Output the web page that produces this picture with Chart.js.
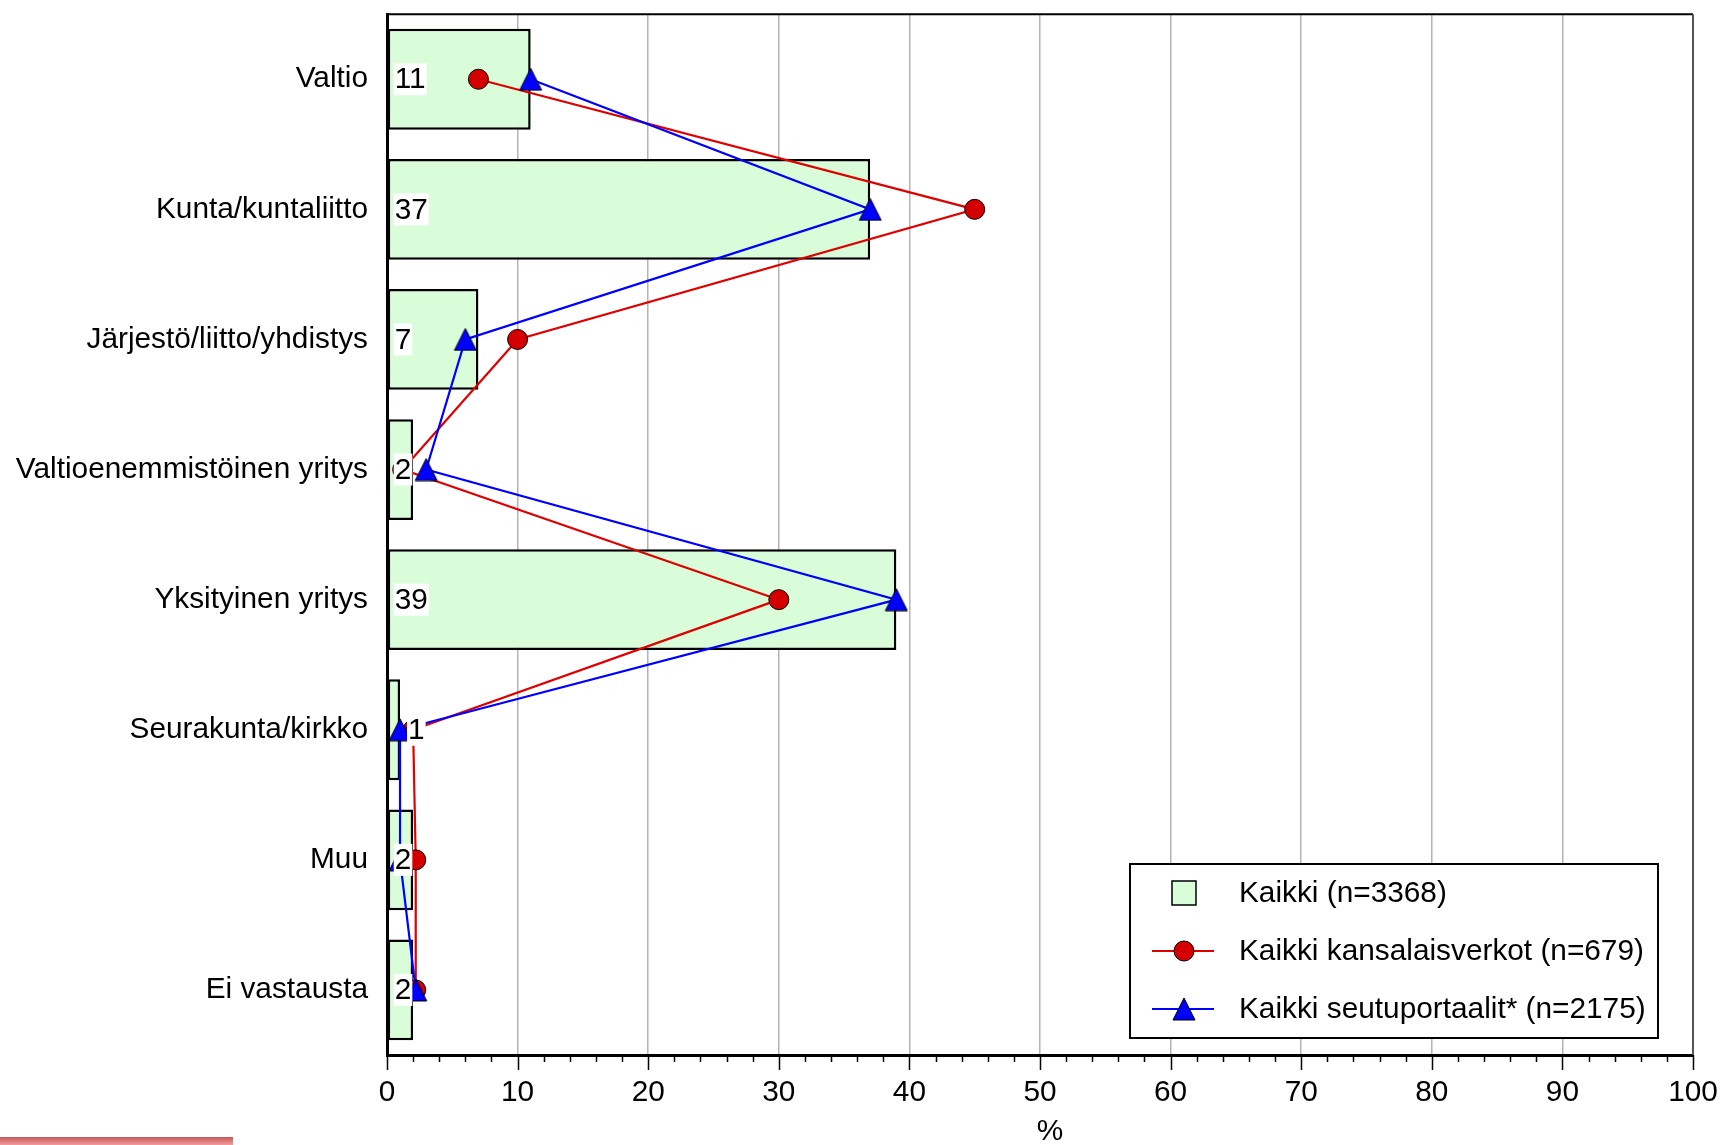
<!DOCTYPE html>
<html lang="fi">
<head>
<meta charset="utf-8">
<title>Organisaatiotyyppi</title>
<script src="https://cdn.jsdelivr.net/npm/chart.js@4.4.1/dist/chart.umd.min.js"></script>
<style>
  html, body { margin: 0; padding: 0; background: #fff; overflow: hidden; }
  #wrap { position: relative; width: 1724px; height: 1145px; }
  #stripe { position: absolute; left: 0; top: 1137px; width: 233px; height: 8px;
            background: linear-gradient(#c45858, #f29c9c); }
</style>
</head>
<body>
<div id="wrap">
  <canvas id="chart"></canvas>
  <div id="stripe"></div>
</div>
<script>
'use strict';

// ── Data ─────────────────────────────────────────────────────
const categories = [
  'Valtio',
  'Kunta/kuntaliitto',
  'Järjestö/liitto/yhdistys',
  'Valtioenemmistöinen yritys',
  'Yksityinen yritys',
  'Seurakunta/kirkko',
  'Muu',
  'Ei vastausta',
];
const kaikki          = [11, 37, 7, 2, 39, 1, 2, 2];
const kansalaisverkot = [7, 45, 10, 1.2, 30, 2, 2.2, 2.2];
const seutuportaalit  = [11, 37, 6, 3, 39, 1, 1, 2.2];
const seriesNames = [
  'Kaikki (n=3368)',
  'Kaikki kansalaisverkot (n=679)',
  'Kaikki seutuportaalit* (n=2175)',
];
const xMin = 0, xMax = 100, xMajorStep = 10, xMinorStep = 2;
const xTitle = '%';

// ── Style ────────────────────────────────────────────────────
const FONT   = "'Liberation Sans', Arial, sans-serif";
const FSIZE  = 29.8;
const GREEN  = '#d9fdd9';
const RED    = '#e00000';
const RED_PT = '#d40000';
const BLUE   = '#0000ff';

function makeTriangle(size, fill) {
  const c = document.createElement('canvas');
  c.width = size; c.height = size;
  const g = c.getContext('2d');
  g.beginPath();
  g.moveTo(size / 2, 1);
  g.lineTo(size - 1, size - 1);
  g.lineTo(1, size - 1);
  g.closePath();
  g.fillStyle = fill;
  g.fill();
  g.strokeStyle = '#000';
  g.lineWidth = 1;
  g.stroke();
  return c;
}
const triangle = makeTriangle(24, BLUE);

// drop the automatic label overflow padding so the plot box is fixed
function noAutoPadding(s) {
  s.paddingTop = 0;
  s.paddingBottom = 0;
  s.paddingLeft = 0;
  s.paddingRight = 0;
}

// ── Plugins ──────────────────────────────────────────────────
// value labels on white boxes at the start of each bar
const barLabels = {
  id: 'barLabels',
  afterDatasetsDraw(chart) {
    const meta = chart.getDatasetMeta(0);
    const ctx = chart.ctx;
    ctx.save();
    ctx.font = `${FSIZE}px ${FONT}`;
    ctx.textBaseline = 'middle';
    ctx.textAlign = 'left';
    meta.data.forEach((bar, i) => {
      const txt = String(kaikki[i]);
      const w = ctx.measureText(txt).width;
      const barW = bar.x - bar.base;
      // too narrow for the number: put it just past the bar end
      const x = w > barW ? bar.x + 8 : bar.base + 7;
      ctx.fillStyle = '#fff';
      ctx.fillRect(x - 1, bar.y - 16, w + 2, 32);
      ctx.fillStyle = '#000';
      ctx.fillText(txt, x, bar.y + 1);
    });
    ctx.restore();
  },
};

// frame (top/right), minor tick marks, axis title and the legend box
const frameAndLegend = {
  id: 'frameAndLegend',
  afterDraw(chart) {
    const { ctx, chartArea: a, scales } = chart;
    ctx.save();

    // top and right edge
    ctx.lineWidth = 2;
    ctx.strokeStyle = '#000';
    ctx.beginPath();
    ctx.moveTo(a.left, a.top);
    ctx.lineTo(a.right, a.top);
    ctx.stroke();
    ctx.strokeStyle = '#555';
    ctx.beginPath();
    ctx.moveTo(a.right, a.top);
    ctx.lineTo(a.right, a.bottom);
    ctx.stroke();

    // tick marks under the x axis
    ctx.strokeStyle = '#000';
    ctx.lineWidth = 1.5;
    for (let v = xMin; v <= xMax; v += xMinorStep) {
      const px = Math.round(scales.x.getPixelForValue(v)) + 0.5;
      const len = v % xMajorStep === 0 ? 15 : 7;
      ctx.beginPath();
      ctx.moveTo(px, a.bottom);
      ctx.lineTo(px, a.bottom + len);
      ctx.stroke();
    }

    ctx.font = `${FSIZE}px ${FONT}`;
    ctx.textBaseline = 'middle';

    // x axis title (sits a little right of centre in the original)
    ctx.fillStyle = '#000';
    ctx.textAlign = 'center';
    ctx.fillText(xTitle, (a.left + a.right) / 2 + 10, 1132);

    // legend
    const bx = 1130, by = 864, bw = 528, bh = 174;
    ctx.fillStyle = '#fff';
    ctx.fillRect(bx, by, bw, bh);
    ctx.lineWidth = 2;
    ctx.strokeStyle = '#000';
    ctx.strokeRect(bx, by, bw, bh);

    const rows = [893, 951, 1009];
    const symX = 1184, textX = 1239;
    ctx.textAlign = 'left';

    // bar swatch
    ctx.fillStyle = GREEN;
    ctx.fillRect(symX - 12, rows[0] - 12, 24, 24);
    ctx.lineWidth = 1.5;
    ctx.strokeStyle = '#000';
    ctx.strokeRect(symX - 12, rows[0] - 12, 24, 24);

    // red line + circle
    ctx.strokeStyle = RED;
    ctx.lineWidth = 2;
    ctx.beginPath();
    ctx.moveTo(1152, rows[1]);
    ctx.lineTo(1214, rows[1]);
    ctx.stroke();
    ctx.beginPath();
    ctx.arc(symX, rows[1], 10, 0, Math.PI * 2);
    ctx.fillStyle = RED_PT;
    ctx.fill();
    ctx.lineWidth = 1;
    ctx.strokeStyle = '#000';
    ctx.stroke();

    // blue line + triangle
    ctx.strokeStyle = BLUE;
    ctx.lineWidth = 2;
    ctx.beginPath();
    ctx.moveTo(1152, rows[2]);
    ctx.lineTo(1214, rows[2]);
    ctx.stroke();
    ctx.drawImage(triangle, symX - 12, rows[2] - 12);

    ctx.fillStyle = '#000';
    seriesNames.forEach((name, i) => ctx.fillText(name, textX, rows[i] + 1));
    ctx.restore();
  },
};

// ── Chart ────────────────────────────────────────────────────
const tickFont = { family: FONT, size: FSIZE };

new Chart(document.getElementById('chart'), {
  type: 'bar',
  data: {
    labels: categories,
    datasets: [
      {
        label: seriesNames[0],
        data: kaikki,
        backgroundColor: GREEN,
        borderColor: '#000',
        borderWidth: 2.5,
        borderSkipped: false,
        barPercentage: 0.775,
        categoryPercentage: 1,
        order: 3,
      },
      {
        type: 'line',
        label: seriesNames[1],
        data: kansalaisverkot,
        borderColor: RED,
        borderWidth: 2.2,
        pointStyle: 'circle',
        pointRadius: 10,
        pointBackgroundColor: RED_PT,
        pointBorderColor: '#000',
        pointBorderWidth: 1,
        tension: 0,
        fill: false,
        order: 2,
      },
      {
        type: 'line',
        label: seriesNames[2],
        data: seutuportaalit,
        borderColor: BLUE,
        borderWidth: 2.2,
        pointStyle: triangle,
        pointRadius: 12,
        tension: 0,
        fill: false,
        order: 1,
      },
    ],
  },
  options: {
    indexAxis: 'y',
    responsive: true,
    maintainAspectRatio: false,
    animation: false,
    layout: { padding: { top: 11, right: 31, bottom: 0, left: 0 } },
    plugins: {
      legend: { display: false },
      tooltip: { enabled: false },
    },
    scales: {
      x: {
        type: 'linear',
        position: 'bottom',
        min: xMin,
        max: xMax,
        afterFit: s => { s.height = 90; noAutoPadding(s); },
        ticks: { stepSize: xMajorStep, font: tickFont, color: '#000', padding: 20, maxRotation: 0 },
        grid: { color: '#b4b4b4', lineWidth: 1.5, drawTicks: false },
        border: { color: '#000', width: 3 },
      },
      y: {
        type: 'category',
        position: 'left',
        offset: true,
        afterFit: s => { s.width = 387; noAutoPadding(s); },
        ticks: { font: tickFont, color: '#000', padding: 19 },
        grid: { drawOnChartArea: false, drawTicks: false },
        border: { color: '#000', width: 3 },
      },
    },
  },
  plugins: [barLabels, frameAndLegend],
});
</script>
</body>
</html>
